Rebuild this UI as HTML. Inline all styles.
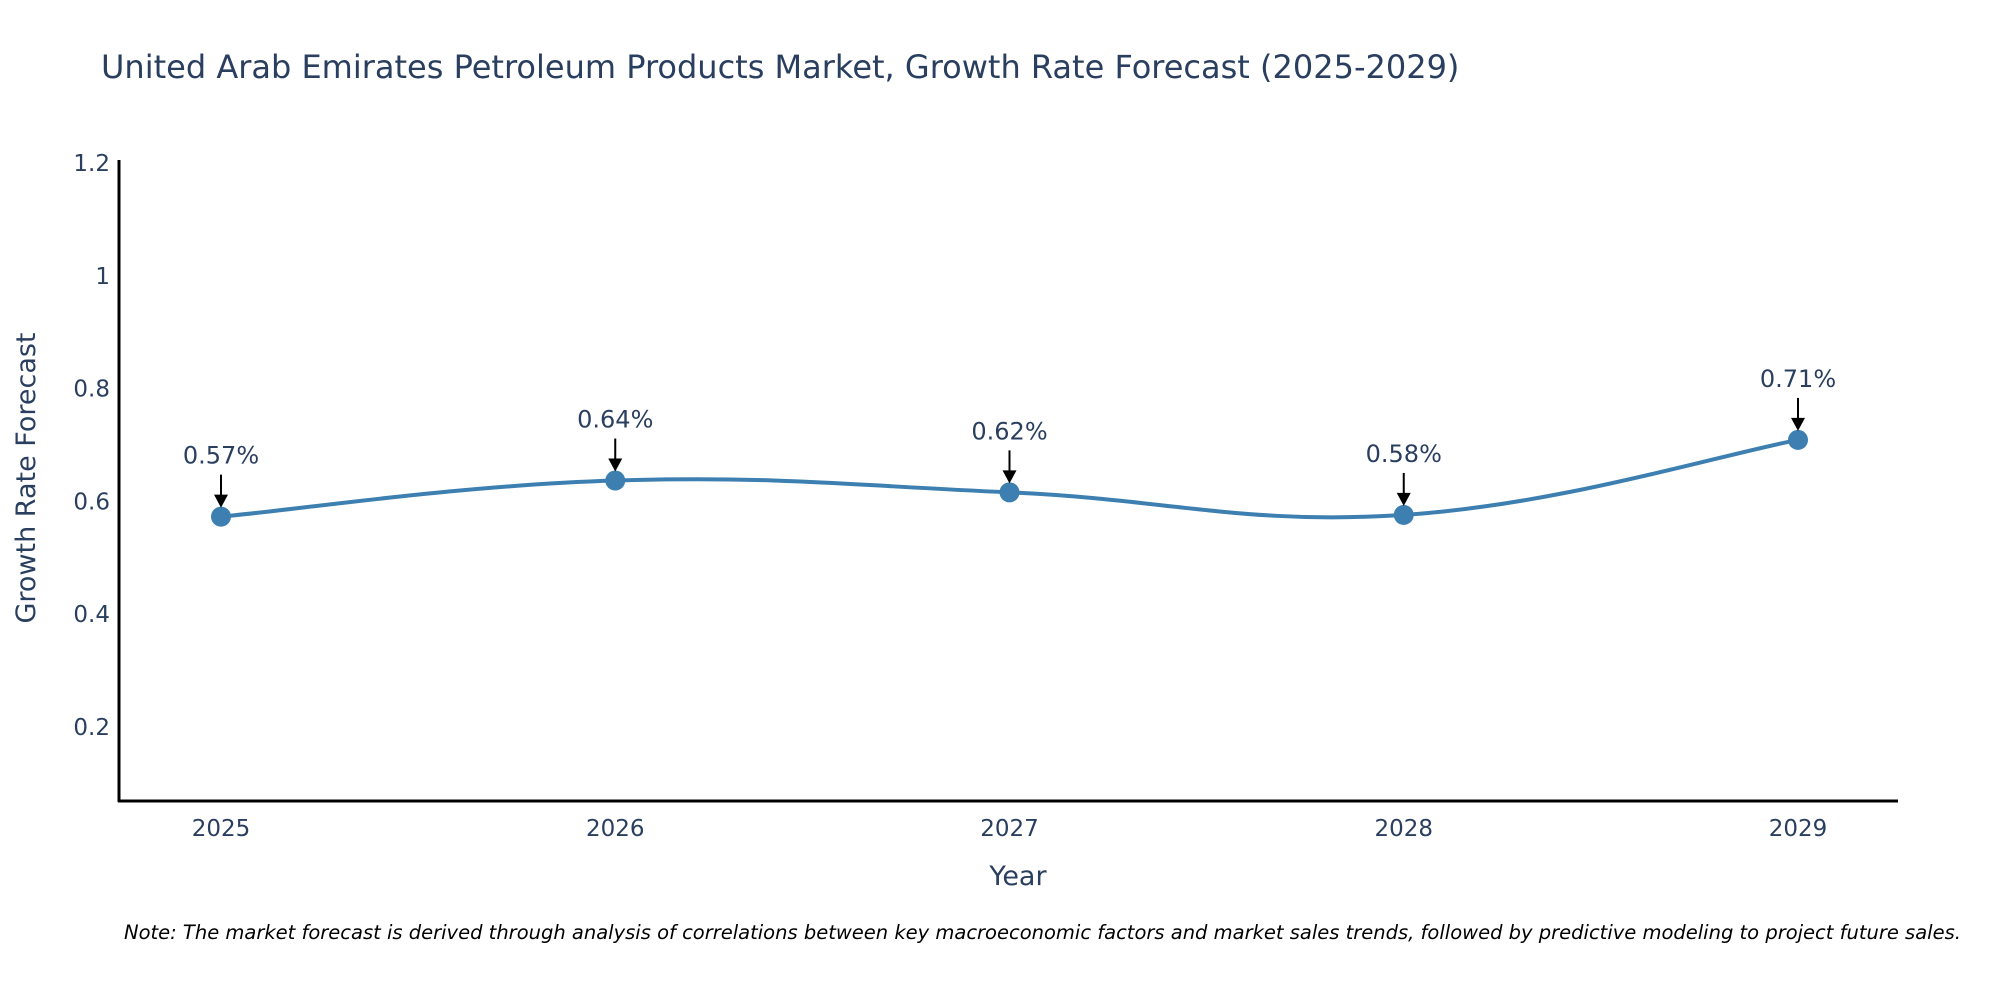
<!DOCTYPE html>
<html><head><meta charset="utf-8"><style>
html,body{margin:0;padding:0;background:#fff;width:2000px;height:1000px;overflow:hidden}
text{font-family:"DejaVu Sans","Liberation Sans",sans-serif}
</style></head><body>
<svg id="chart" width="2000" height="1000" viewBox="0 0 2000 1000">
<text x="101" y="78" font-size="32" fill="#2a3f5f">United Arab Emirates Petroleum Products Market, Growth Rate Forecast (2025-2029)</text>
<g id="yticks"></g>
<g id="xticks"></g>
<line x1="119" y1="160" x2="119" y2="802" stroke="#000" stroke-width="3"/>
<line x1="118" y1="801" x2="1898" y2="801" stroke="#000" stroke-width="3"/>
<g id="series"></g>
<g id="annots"></g>
<text transform="translate(35,478) rotate(-90)" text-anchor="middle" font-size="27" fill="#2a3f5f">Growth Rate Forecast</text>
<text x="1018" y="885" text-anchor="middle" font-size="27" fill="#2a3f5f">Year</text>
<text x="124" y="939" font-size="19.5" font-style="italic" fill="#000">Note: The market forecast is derived through analysis of correlations between key macroeconomic factors and market sales trends, followed by predictive modeling to project future sales.</text>
</svg>
<script>
const years = ["2025","2026","2027","2028","2029"];
const growth = [0.573, 0.637, 0.616, 0.576, 0.709];
const pointLabels = ["0.57%","0.64%","0.62%","0.58%","0.71%"];
const yTickValues = [0.2, 0.4, 0.6, 0.8, 1, 1.2];
const yTickLabels = ["0.2","0.4","0.6","0.8","1","1.2"];

const NS="http://www.w3.org/2000/svg";
function xScale(i){return 221 + i*(1798-221)/(years.length-1);}
function yScale(v){return 727 - (v-0.2)*(727-163)/1.0;}
function mk(tag,attrs,parent){const e=document.createElementNS(NS,tag);for(const k in attrs)e.setAttribute(k,attrs[k]);parent.appendChild(e);return e;}

const yt=document.getElementById('yticks');
yTickValues.forEach((v,i)=>{
  const t=mk('text',{x:110,y:yScale(v)+8,'text-anchor':'end','font-size':23,fill:'#2a3f5f'},yt);
  
  
  t.textContent=yTickLabels[i];
});
const xt=document.getElementById('xticks');
years.forEach((y,i)=>{
  const t=mk('text',{x:xScale(i),y:836,'text-anchor':'middle','font-size':23,fill:'#2a3f5f'},xt);
  
  
  t.textContent=y;
});

const pts=growth.map((v,i)=>[xScale(i),yScale(v)]);
let d=`M${pts[0][0]},${pts[0][1]}`;
const s=0.2;
for(let i=0;i<pts.length-1;i++){
  const p0=pts[Math.max(0,i-1)],p1=pts[i],p2=pts[i+1],p3=pts[Math.min(pts.length-1,i+2)];
  const c1=[p1[0]+(p2[0]-p0[0])*s,p1[1]+(p2[1]-p0[1])*s];
  const c2=[p2[0]-(p3[0]-p1[0])*s,p2[1]-(p3[1]-p1[1])*s];
  d+=` C${c1[0]},${c1[1]} ${c2[0]},${c2[1]} ${p2[0]},${p2[1]}`;
}
const ser=document.getElementById('series');
const line=mk('path',{d:d,fill:'none',stroke:'#3d7fb0','stroke-width':4},ser);


pts.forEach(p=>{
  const c=mk('circle',{cx:p[0],cy:p[1],r:10,fill:'#3d7fb0'},ser);
  
  
});
const an=document.getElementById('annots');
pts.forEach((p,i)=>{
  const l=mk('line',{x1:p[0],y1:p[1]-42,x2:p[0],y2:p[1]-20,stroke:'#000','stroke-width':2},an);
  
  
  const h=mk('polygon',{points:`${p[0]-7},${p[1]-22} ${p[0]+7},${p[1]-22} ${p[0]},${p[1]-9}`,fill:'#000'},an);
  
  
  const t=mk('text',{x:p[0],y:p[1]-53,'text-anchor':'middle','font-size':24,fill:'#2a3f5f'},an);
  
  
  t.textContent=pointLabels[i];
});
</script>
</body></html>
